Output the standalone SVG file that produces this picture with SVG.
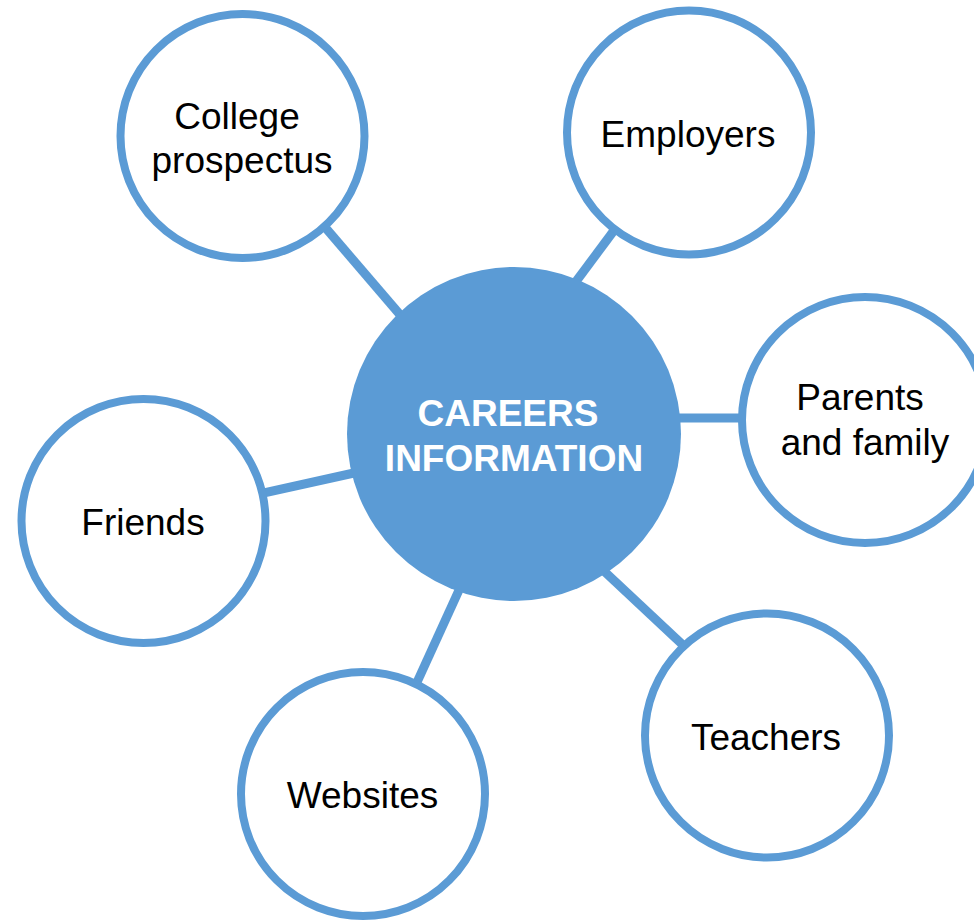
<svg xmlns="http://www.w3.org/2000/svg" width="974" height="921" viewBox="0 0 974 921">
<style>
.conn { stroke: #5B9BD5; stroke-width: 9; fill: none; }
.node { fill: #FFFFFF; stroke: #5B9BD5; stroke-width: 8; }
.hub { fill: #5B9BD5; }
.lbl { font-family: "Liberation Sans", Arial, sans-serif; font-size: 37px; fill: #000000; text-anchor: middle; }
.hublbl { font-family: "Liberation Sans", Arial, sans-serif; font-size: 37px; font-weight: bold; fill: #FFFFFF; text-anchor: middle; }
</style>
<rect width="974" height="921" fill="#FFFFFF"/>
<g id="connectors">
  <line class="conn" x1="312" y1="212" x2="420" y2="338"/>
  <line class="conn" x1="627" y1="213" x2="560" y2="303"/>
  <line class="conn" x1="660" y1="418" x2="752" y2="418"/>
  <line class="conn" x1="250" y1="496" x2="372" y2="469"/>
  <line class="conn" x1="408" y1="702" x2="470" y2="566"/>
  <line class="conn" x1="590" y1="558" x2="700" y2="661"/>
</g>
<g id="hub">
  <circle class="hub" cx="514" cy="434" r="167"/>
  <text class="hublbl" x="508" y="426">CAREERS</text>
  <text class="hublbl" x="514" y="471">INFORMATION</text>
</g>
<g id="college">
  <circle class="node" cx="242.5" cy="136" r="122"/>
  <text class="lbl" x="237" y="129">College</text>
  <text class="lbl" x="242" y="173">prospectus</text>
</g>
<g id="employers">
  <circle class="node" cx="689" cy="132.5" r="122"/>
  <text class="lbl" x="688" y="147">Employers</text>
</g>
<g id="parents">
  <circle class="node" cx="865" cy="420" r="123"/>
  <text class="lbl" x="860" y="410">Parents</text>
  <text class="lbl" x="865" y="455">and family</text>
</g>
<g id="friends">
  <circle class="node" cx="143.5" cy="521" r="122"/>
  <text class="lbl" x="143" y="535">Friends</text>
</g>
<g id="websites">
  <circle class="node" cx="363" cy="794" r="122"/>
  <text class="lbl" x="362.5" y="808">Websites</text>
</g>
<g id="teachers">
  <circle class="node" cx="767" cy="735.5" r="122"/>
  <text class="lbl" x="766" y="750">Teachers</text>
</g>
</svg>
